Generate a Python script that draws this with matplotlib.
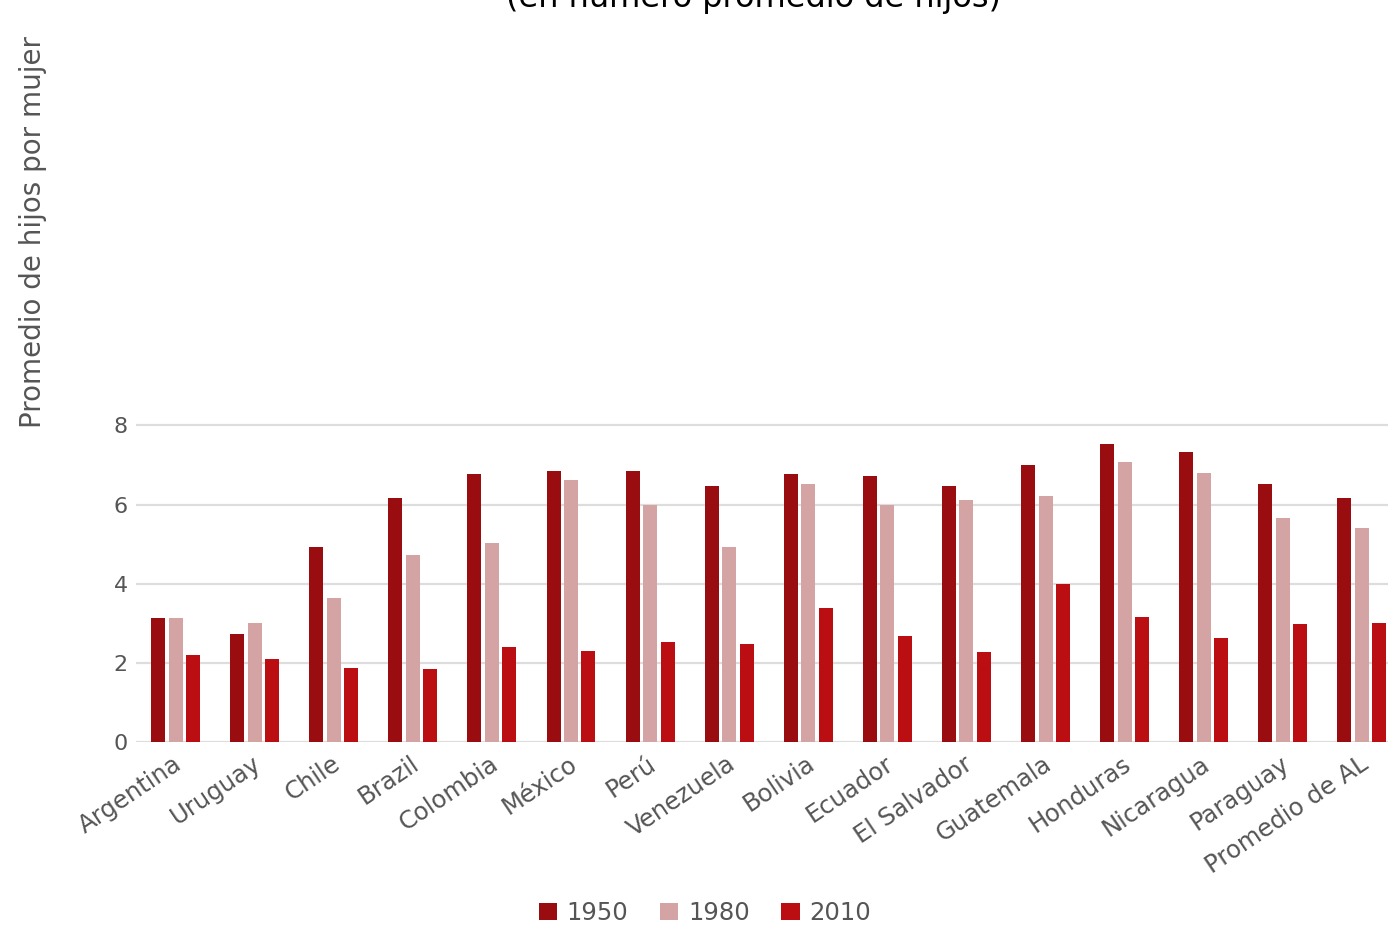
import numpy as np
import matplotlib
matplotlib.use("Agg")
import matplotlib.pyplot as plt
import matplotlib.transforms as mtransforms

categories = ["Argentina", "Uruguay", "Chile", "Brazil", "Colombia", "México", "Perú",
              "Venezuela", "Bolivia", "Ecuador", "El Salvador", "Guatemala", "Honduras",
              "Nicaragua", "Paraguay", "Promedio de AL"]
v1950 = [3.14, 2.72, 4.94, 6.16, 6.76, 6.86, 6.86, 6.46, 6.76, 6.71, 6.46, 7.01, 7.52, 7.34, 6.51, 6.16]
v1980 = [3.14, 3.00, 3.63, 4.72, 5.02, 6.61, 6.00, 4.94, 6.51, 6.00, 6.11, 6.21, 7.07, 6.79, 5.65, 5.42]
v2010 = [2.21, 2.09, 1.86, 1.84, 2.39, 2.29, 2.52, 2.47, 3.38, 2.67, 2.27, 3.98, 3.15, 2.64, 2.97, 3.00]
series_names = ["1950", "1980", "2010"]
yticks = [0, 2, 4, 6, 8]
title = "(en número promedio de hijos)"
ylabel = "Promedio de hijos por mujer"

colors = ["#990C10", "#D4A3A3", "#BA0E13"]
W, H = 1388, 926
fig = plt.figure(figsize=(W / 100, H / 100), dpi=100)
plt.rcParams['font.family'] = ['DejaVu Sans']
ax = fig.add_axes([136 / W, 1 - 742 / H, 1 - 136 / W, 742 / H])

x = np.arange(len(categories))
bw = 0.177
offs = [-0.221, 0.0, 0.221]
for vals, off, c, name in zip([v1950, v1980, v2010], offs, colors, series_names):
    ax.bar(x + off, vals, width=bw, color=c, label=name, zorder=3)

ax.set_xlim(-0.5, 15.33)
ax.set_ylim(0, 18.75)
ax.set_yticks(yticks)
ax.set_yticklabels([str(t) for t in yticks])
ax.yaxis.grid(True, color="#DDDDDD", linewidth=1.6, zorder=0)
ax.xaxis.grid(False)
for s in ax.spines.values():
    s.set_visible(False)
ax.tick_params(axis='y', length=0, pad=6, labelsize=16, labelcolor="#555555")
ax.tick_params(axis='x', length=0, pad=14, labelsize=17.5, labelcolor="#555555")
ax.set_xticks(x)
ax.set_xticklabels(categories, rotation=34, ha='right', va='center', rotation_mode='anchor')
offset = mtransforms.ScaledTranslation(4 / 100, 0, fig.dpi_scale_trans)
for lab in ax.get_xticklabels():
    lab.set_transform(lab.get_transform() + offset)

fig.text(754 / W, 1 - 7 / H, title, ha='center', va='baseline', fontsize=23, color="black")
fig.text(33 / W, 1 - 232 / H, ylabel, rotation=90, ha='center', va='center',
         fontsize=20, color="#555555")

leg = fig.legend(loc='center', bbox_to_anchor=(705 / W, 1 - 913 / H), ncol=3, frameon=False,
                 fontsize=17.5, handlelength=0.75, handleheight=0.75, handletextpad=0.4,
                 columnspacing=1.3, labelcolor="#555555")

fig.savefig("out.png", dpi=100)
